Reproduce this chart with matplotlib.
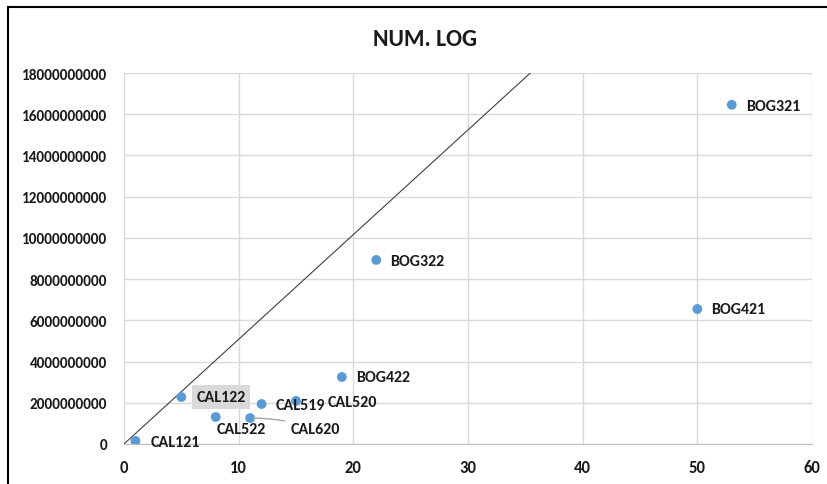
import matplotlib
matplotlib.use("Agg")
import matplotlib.pyplot as plt
from matplotlib.lines import Line2D

# Data
labels = ["CAL121", "CAL122", "CAL522", "CAL620", "CAL519", "CAL520",
          "BOG422", "BOG322", "BOG421", "BOG321"]
x_vals = [1, 5, 8, 11, 12, 15, 19, 22, 50, 53]
y_vals = [0.15e9, 2.28e9, 1.31e9, 1.26e9, 1.94e9, 2.09e9,
          3.25e9, 8.93e9, 6.55e9, 16.46e9]
# reference line through the origin
ref_x = [0, 60]
ref_y = [0, 60 * 5.08e8]
x_ticks = [0, 10, 20, 30, 40, 50, 60]
y_ticks = [0, 2e9, 4e9, 6e9, 8e9, 10e9, 12e9, 14e9, 16e9, 18e9]

# label offsets in pixels (dx, dy)
offsets = {
    "CAL121": (15, -1), "CAL122": (15, 0), "CAL522": (1, -12),
    "CAL620": (40, -11), "CAL519": (14, -1), "CAL520": (32, -1),
    "BOG422": (14, 0), "BOG322": (14, -1), "BOG421": (14, 0),
    "BOG321": (14, -1),
}

plt.rcParams["font.family"] = ["Carlito", "DejaVu Sans"]

W, H = 827, 485
fig = plt.figure(figsize=(W / 100, H / 100), dpi=100)
ax = fig.add_axes([124 / W, 1 - 445 / H, (812 - 124) / W, (445 - 74) / H])

ax.set_xlim(0, 60)
ax.set_ylim(0, 18e9)
ax.set_xticks(x_ticks)
ax.set_yticks(y_ticks)
ax.set_xticklabels([str(t) for t in x_ticks])
ax.set_yticklabels([str(int(t)) for t in y_ticks])
for lab in ax.get_xticklabels():
    lab.set_fontweight("bold")
    lab.set_fontsize(12)
    lab.set_color("#1a1a1a")
for lab in ax.get_yticklabels():
    lab.set_fontweight("bold")
    lab.set_fontsize(11)
    lab.set_color("#1a1a1a")
ax.tick_params(length=0)
ax.tick_params(axis="y", pad=12)
ax.tick_params(axis="x", pad=11)

ax.grid(True, color="#d9d9d9", linewidth=1)
ax.set_axisbelow(True)
for s in ["top", "right", "left"]:
    ax.spines[s].set_visible(False)
ax.spines["bottom"].set_color("#bfbfbf")

ax.plot(ref_x, ref_y, color="#404040", linewidth=0.8, zorder=2)
ax.scatter(x_vals, y_vals, s=50, color="#5B9BD5", zorder=3, edgecolors="none")

for name, xv, yv in zip(labels, x_vals, y_vals):
    dx, dy = offsets[name]
    kw = dict(xy=(xv, yv), xytext=(dx, dy), textcoords="offset pixels",
              ha="left", va="center", fontsize=11.5, fontweight="bold",
              color="#1a1a1a", zorder=4)
    if name == "CAL122":
        kw["bbox"] = dict(boxstyle="square,pad=0.3", fc="#d9d9d9", ec="none")
    if name == "CAL620":
        kw["arrowprops"] = dict(arrowstyle="-", color="#a6a6a6", lw=1,
                                connectionstyle="angle3,angleA=-20,angleB=0",
                                shrinkA=2, shrinkB=2)
    ax.annotate(name, **kw)

fig.text(425 / W, 1 - 40 / H, "NUM. LOG", ha="center", va="center",
         fontsize=17, fontweight="bold", color="#1a1a1a")

# chart frame
fig.add_artist(Line2D([8 / W, 8 / W], [0, 1 - 8 / H], transform=fig.transFigure,
                      color="black", linewidth=1.5))
fig.add_artist(Line2D([8 / W, 1], [1 - 8 / H, 1 - 8 / H], transform=fig.transFigure,
                      color="black", linewidth=1.5))

fig.savefig("out.png", dpi=100)
